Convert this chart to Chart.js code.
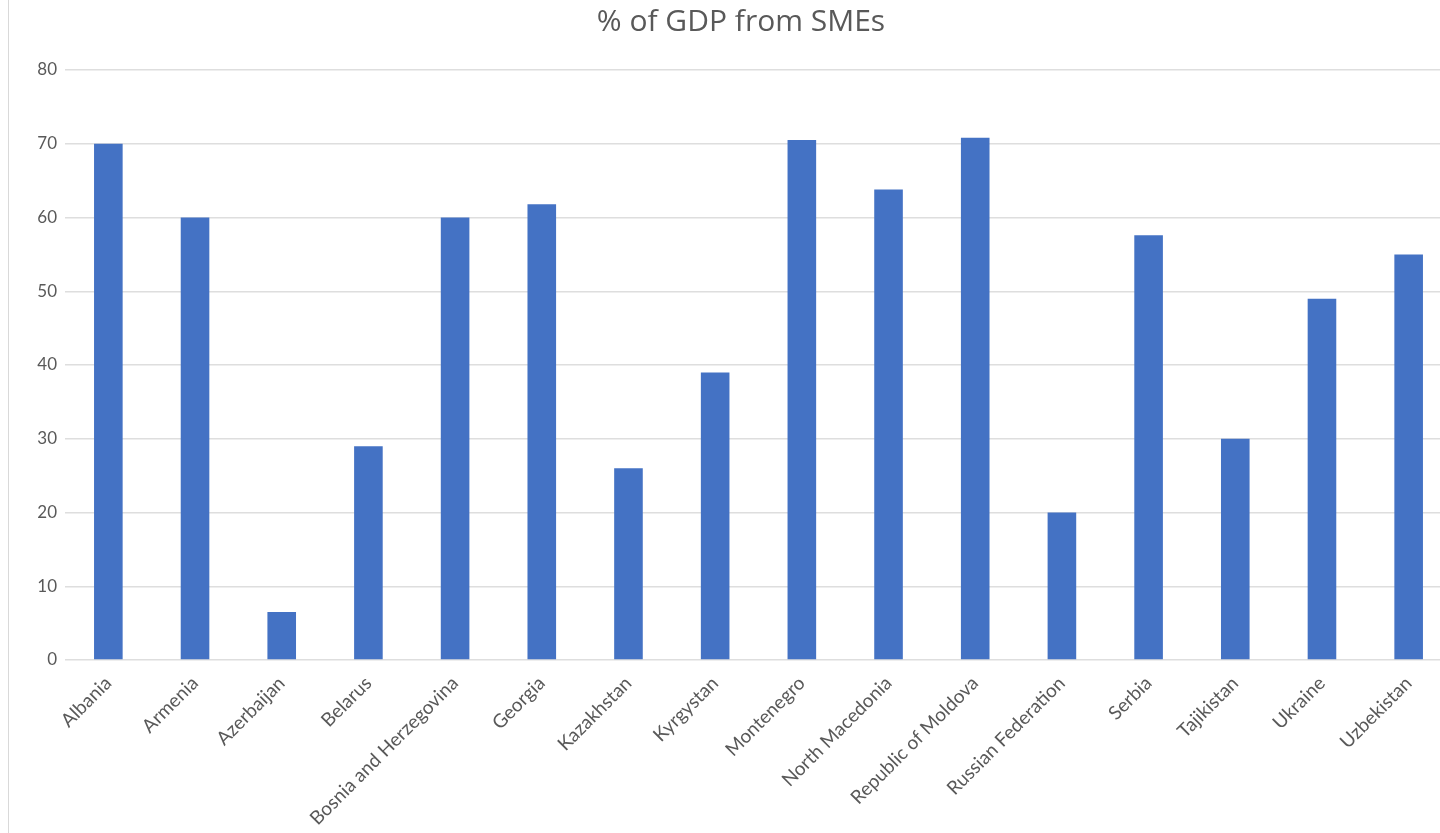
<!DOCTYPE html>
<html>
<head>
<meta charset="utf-8">
<script src="https://cdn.jsdelivr.net/npm/chart.js@4"></script>
<style>
html, body { margin:0; padding:0; background:#fff; overflow:hidden; }
#wrap { position:relative; width:1440px; height:833px; overflow:hidden; }
#box { position:absolute; left:0; top:0; width:1452px; height:833px; }
#edge { position:absolute; left:8px; top:0; width:0; height:833px; border-left:1px solid #d9d9d9; }
</style>
</head>
<body>
<div id="wrap">
<div id="box"><canvas id="smeChart"></canvas></div>
<div id="edge"></div>
</div>
<script>

// ================================
// DATA
// ================================

const countries = [
'Albania',
'Armenia',
'Azerbaijan',
'Belarus',
'Bosnia and Herzegovina',
'Georgia',
'Kazakhstan',
'Kyrgystan',
'Montenegro',
'North Macedonia',
'Republic of Moldova',
'Russian Federation',
'Serbia',
'Tajikistan',
'Ukraine',
'Uzbekistan'
];

const gdpShare = [
70, 60, 6.5, 29, 60, 61.8, 26, 39,
70.5, 63.8, 70.8, 20, 57.6, 30, 49, 55
];

const yTicks = [0, 10, 20, 30, 40, 50, 60, 70, 80];


// ================================
// CHART
// ================================

const textColor = '#595959';
const ctx = document.getElementById('smeChart');

new Chart(ctx,{

type:'bar',

data:{
labels:countries,
datasets:[{
label:'% of GDP from SMEs',
data:gdpShare,
backgroundColor:'#4472C4',
barPercentage:0.33,
categoryPercentage:1
}]
},

options:{
responsive:true,
maintainAspectRatio:false,
animation:false,
layout:{ padding:{ top:0, right:0, bottom:0, left:30 } },
plugins:{
legend:{ display:false },
tooltip:{ enabled:false },
title:{
display:true,
text:'% of GDP from SMEs',
color:textColor,
font:{ family:'Open Sans', size:30, weight:'normal' },
padding:{ top:4, bottom:30 }
}
},
scales:{
x:{
grid:{ display:false },
border:{ display:false },
ticks:{
color:textColor,
font:{ family:'Lato', size:19 },
minRotation:45,
maxRotation:45,
autoSkip:false,
padding:4
},
afterFit:function(scale){ scale.height = 173; }
},
y:{
min:0,
max:80,
afterBuildTicks:function(scale){ scale.ticks = yTicks.map(v => ({ value:v })); },
grid:{ color:'#dedede', lineWidth:1.5, drawTicks:false },
border:{ display:false },
ticks:{
color:textColor,
font:{ family:'Lato', size:17 },
padding:8
},
afterFit:function(scale){ scale.width = 35; }
}
}
}

});

</script>
</body>
</html>
